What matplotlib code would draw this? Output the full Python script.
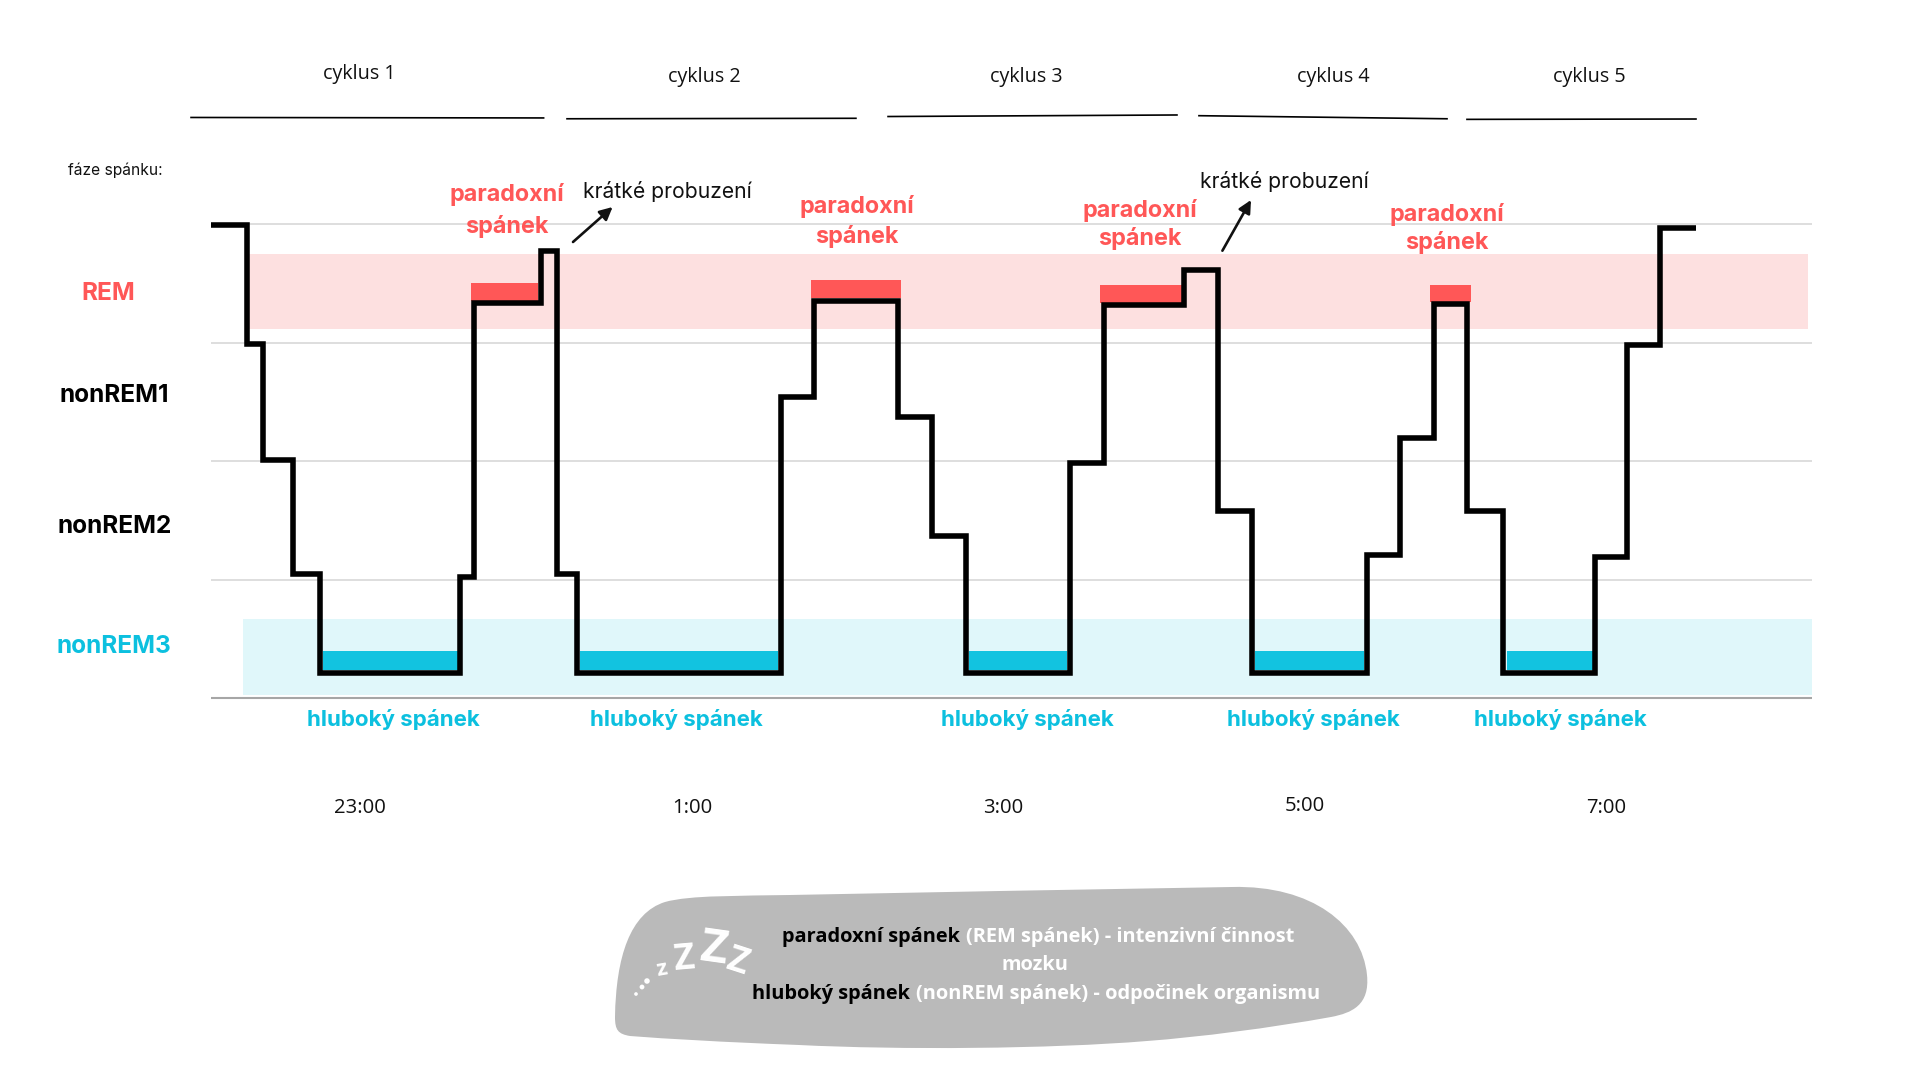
import matplotlib
matplotlib.use("Agg")
import matplotlib.pyplot as plt
from matplotlib.patches import PathPatch, Rectangle, FancyArrowPatch
from matplotlib.path import Path
from matplotlib.transforms import Affine2D

# --- data: x in hours after 23:00, y on a stage scale (grid lines at 0..4) ---
step_x = [-0.958, -0.724, -0.622, -0.429, -0.254, 0.641, 0.731, 1.160, 1.266, 1.391, 2.699,
          2.910, 3.449, 3.667, 3.885, 4.551, 4.767, 5.285, 5.500, 5.718, 6.455, 6.667,
          6.885, 7.096, 7.330, 7.917, 8.119, 8.333, 8.564]
step_y = [3.992, 2.991, 2.008, 1.046, 0.215, 1.021, 3.333, 3.772, 1.046, 0.215, 2.536,
          3.353, 2.371, 1.367, 0.215, 1.983, 3.316, 3.615, 1.578, 0.215, 1.207, 2.194,
          3.325, 1.578, 0.215, 1.186, 2.979, 3.966, 3.966]
rem_start = [0.712, 2.891, 4.744, 6.862]
rem_end = [1.141, 3.468, 5.267, 7.119]
rem_low = [3.353, 3.376, 3.333, 3.338]
rem_high = [3.502, 3.527, 3.485, 3.489]
deep_start = [-0.237, 1.410, 3.904, 5.737, 7.350]
deep_end = [0.625, 2.679, 4.532, 6.436, 7.902]
deep_low = 0.240
deep_high = 0.393
grid_levels = [1, 2, 3, 4]
time_labels = ["23:00", "1:00", "3:00", "5:00", "7:00"]
time_x = [0.0, 2.128, 4.122, 6.058, 7.990]
time_y = [-0.925, -0.925, -0.925, -0.915, -0.925]
cycle_labels = ["cyklus 1", "cyklus 2", "cyklus 3", "cyklus 4", "cyklus 5"]
cycle_start = [-1.083, 1.327, 3.385, 5.378, 7.096]
cycle_end = [1.177, 3.179, 5.237, 6.968, 8.564]
cycle_y0 = [4.899, 4.888, 4.907, 4.914, 4.883]
cycle_y1 = [4.895, 4.892, 4.920, 4.888, 4.886]
cycle_text_x = [-0.003, 2.205, 4.269, 6.237, 7.878]
cycle_text_y = [5.267, 5.240, 5.240, 5.240, 5.240]
stage_labels = ["REM", "nonREM1", "nonREM2", "nonREM3"]

RED = "#ff5757"
BLUE = "#0cc0df"
BODY = "Open Sans"
HEAD = "Inter"

fig = plt.figure(figsize=(19.2, 10.8), dpi=100, facecolor="white")
ax = fig.add_axes([0, 0, 1, 1])
ax.set_xlim(-2.3077, 10)
ax.set_ylim(-3.2236, 5.8903)
ax.axis("off")
pix = Affine2D().scale(1, -1).translate(0, 1080)


def ptext(x, y, s, **kw):
    kw.setdefault("ha", "center")
    kw.setdefault("va", "center")
    return ax.text(x, y, s, transform=pix, **kw)


# bands
ax.add_patch(Rectangle((-0.712, 3.117), 9.994, 0.630, fc="#fde0e0", ec="none", zorder=1))
ax.add_patch(Rectangle((-0.75, 0.025), 10.058, 0.642, fc="#e0f7fa", ec="none", zorder=1))

# grid
ax.hlines(grid_levels, -0.958, 9.308, color="#d8d8d8", lw=1.2, zorder=2)
ax.hlines([0], -0.958, 9.308, color="#a6a6a6", lw=1.5, zorder=2)

# highlighted segments
for a, b, lo, hi in zip(rem_start, rem_end, rem_low, rem_high):
    ax.bar(a, hi - lo, width=b - a, bottom=lo, align="edge", color=RED, zorder=3)
for a, b in zip(deep_start, deep_end):
    ax.bar(a, deep_high - deep_low, width=b - a, bottom=deep_low, align="edge", color="#12c3e0", zorder=3)

# hypnogram
ax.plot(step_x, step_y, drawstyle="steps-post", color="black", lw=4.0,
        solid_joinstyle="miter", solid_capstyle="butt", zorder=4)

# cycles
for a, b, y0, y1, lab, tx, ty in zip(cycle_start, cycle_end, cycle_y0, cycle_y1,
                                     cycle_labels, cycle_text_x, cycle_text_y):
    ax.plot([a, b], [y0, y1], color="black", lw=1.2, zorder=3)
    ax.text(tx, ty, lab, family=BODY, fontsize=14.2, ha="center", va="center", color="#111111")

# time labels
for x, y, lab in zip(time_x, time_y, time_labels):
    ax.text(x, y, lab, family=BODY, fontsize=14.6, ha="center", va="center", color="#111111")

# left labels
ptext(115, 170.5, "fáze spánku:", family=HEAD, fontsize=11.2, color="#111111")
stage_pos = [(108, 294), (114.5, 395), (115, 526.5), (114, 646.5)]
stage_col = [RED, "black", "black", BLUE]
for (x, y), lab, c in zip(stage_pos, stage_labels, stage_col):
    ptext(x, y, lab, family=HEAD, weight="bold", fontsize=17.6, color=c)

# annotations
for x, y1, y2 in [(507, 195, 226), (856.5, 207, 236), (1140, 210, 239), (1447, 214, 242)]:
    ptext(x, y1, "paradoxní", family=HEAD, weight="bold", fontsize=16.8, color=RED)
    ptext(x, y2, "spánek", family=HEAD, weight="bold", fontsize=16.8, color=RED)
for x in [393, 676.5, 1027, 1313, 1560]:
    ptext(x, 719.5, "hluboký spánek", family=HEAD, weight="bold", fontsize=16.1, color=BLUE)
ptext(667, 191.5, "krátké probuzení", family=HEAD, fontsize=15.2, color="#111111")
ptext(1284, 181.5, "krátké probuzení", family=HEAD, fontsize=15.2, color="#111111")
for p0, p1 in [((573, 242), (612.6, 207)), ((1222.4, 250.7), (1251, 200))]:
    ax.add_patch(FancyArrowPatch(p0, p1, transform=pix, arrowstyle="-|>", mutation_scale=19,
                                 lw=1.9, color="#111111", shrinkA=0, shrinkB=0, zorder=5))

# speech bubble
verts = [(615, 1017),
         (616, 957), (630, 913), (665, 902),
         (690, 895), (740, 896), (790, 895),
         (900, 893), (1100, 889), (1232, 887),
         (1312, 885), (1362, 925), (1367, 975),
         (1370, 1005), (1352, 1013), (1331, 1017),
         (1270, 1028), (1200, 1037), (1147, 1041),
         (1050, 1049), (900, 1050), (799, 1045),
         (720, 1042), (670, 1039), (630, 1036),
         (618, 1034), (615, 1030), (615, 1017)]
codes = [Path.MOVETO] + [Path.CURVE4] * (len(verts) - 1)
ax.add_patch(PathPatch(Path(verts, codes), transform=pix, fc="#bababa", ec="none", zorder=1))

fig.canvas.draw()
renderer = fig.canvas.get_renderer()
LEG = 14.4


def mixed(x_left, y, black, white):
    t = ptext(x_left, y, black, family=BODY, weight="bold", fontsize=LEG, color="black", ha="left", zorder=6)
    e = t.get_window_extent(renderer)
    ptext(e.x1 + 6, y, white, family=BODY, weight="bold", fontsize=LEG, color="white", ha="left", zorder=6)


mixed(781.5, 937, "paradoxní spánek", "(REM spánek) - intenzivní činnost")
ptext(1035, 965.5, "mozku", family=BODY, weight="bold", fontsize=LEG, color="white", zorder=6)
mixed(751.5, 993.5, "hluboký spánek", "(nonREM spánek) - odpočinek organismu")

# sleeping z's
for x, y, fs, rot in [(662, 970, 16, 10), (684, 960, 26, 5), (714, 950, 34, -8), (737, 963, 26, -18)]:
    ptext(x, y, "z" if fs < 20 else "Z", family=BODY, weight="bold", fontsize=fs, color="white",
          rotation=rot, zorder=6)
dot_x = [647, 642, 636]
dot_y = [981, 987, 994]
dot_s = [16, 12, 7]
ax.scatter(dot_x, dot_y, s=dot_s, color="white", transform=pix, zorder=6, linewidths=0)

fig.savefig("out.png", dpi=100, facecolor="white")
